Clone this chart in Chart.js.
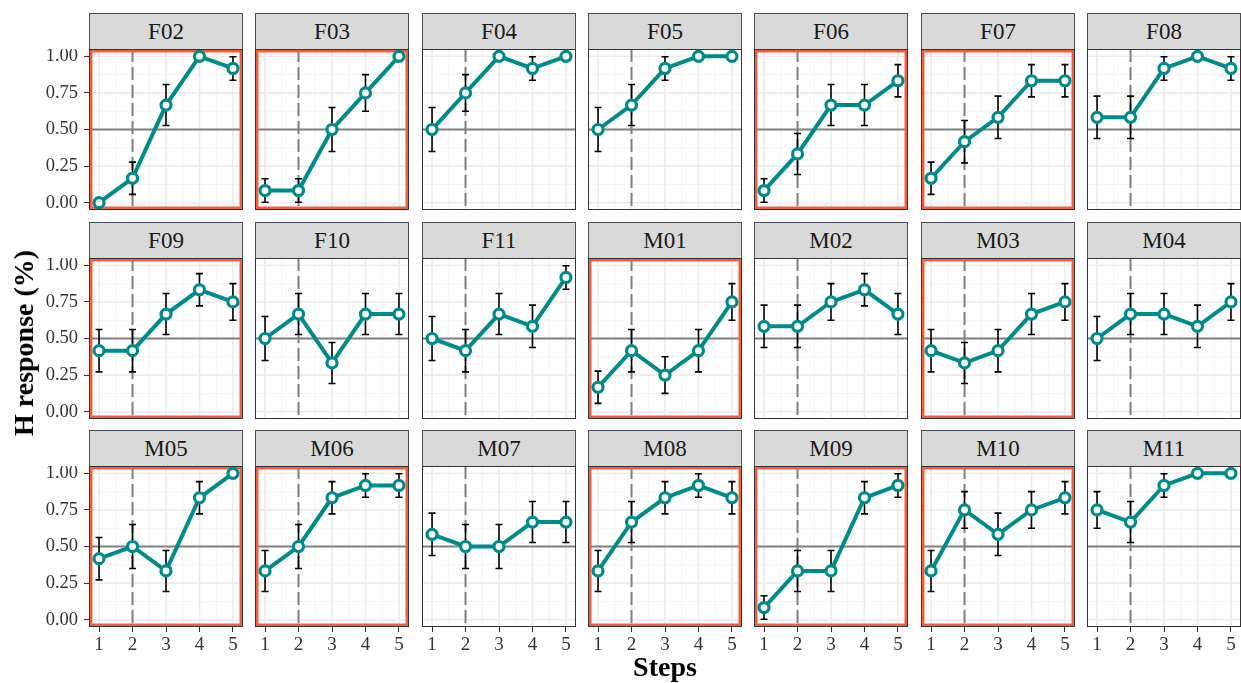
<!DOCTYPE html>
<html><head><meta charset="utf-8">
<script src="https://cdn.jsdelivr.net/npm/chart.js@4"></script>
<style>
body{margin:0;width:1241px;height:683px;background:#fff;position:relative;overflow:hidden;font-family:"Liberation Serif",serif}
.strip{position:absolute;background:#D9D9D9;border:1px solid #4d4d4d;box-sizing:border-box;text-align:center;font-size:23px;color:#1a1a1a}
canvas{position:absolute}
.title{position:absolute;font-weight:bold;font-size:28px;white-space:nowrap;color:#000}
</style></head><body>
<script>
const speakers = ['F02','F03','F04','F05','F06','F07','F08',
                  'F09','F10','F11','M01','M02','M03','M04',
                  'M05','M06','M07','M08','M09','M10','M11'];
const steps = [1,2,3,4,5];
const responseValues = [
  [0, 0.167, 0.667, 1, 0.917],
  [0.083, 0.083, 0.5, 0.75, 1],
  [0.5, 0.75, 1, 0.917, 1],
  [0.5, 0.667, 0.917, 1, 1],
  [0.083, 0.333, 0.667, 0.667, 0.833],
  [0.167, 0.417, 0.583, 0.833, 0.833],
  [0.583, 0.583, 0.917, 1, 0.917],
  [0.417, 0.417, 0.667, 0.833, 0.75],
  [0.5, 0.667, 0.333, 0.667, 0.667],
  [0.5, 0.417, 0.667, 0.583, 0.917],
  [0.167, 0.417, 0.25, 0.417, 0.75],
  [0.583, 0.583, 0.75, 0.833, 0.667],
  [0.417, 0.333, 0.417, 0.667, 0.75],
  [0.5, 0.667, 0.667, 0.583, 0.75],
  [0.417, 0.5, 0.333, 0.833, 1],
  [0.333, 0.5, 0.833, 0.917, 0.917],
  [0.583, 0.5, 0.5, 0.667, 0.667],
  [0.333, 0.667, 0.833, 0.917, 0.833],
  [0.083, 0.333, 0.333, 0.833, 0.917],
  [0.333, 0.75, 0.583, 0.75, 0.833],
  [0.75, 0.667, 0.917, 1, 1]
];
const errorValues = [
  [0, 0.11, 0.14, 0, 0.08],
  [0.08, 0.08, 0.15, 0.125, 0],
  [0.15, 0.125, 0, 0.08, 0],
  [0.15, 0.14, 0.08, 0, 0],
  [0.08, 0.14, 0.14, 0.14, 0.11],
  [0.11, 0.145, 0.145, 0.11, 0.11],
  [0.145, 0.145, 0.08, 0, 0.08],
  [0.145, 0.145, 0.14, 0.11, 0.125],
  [0.15, 0.14, 0.14, 0.14, 0.14],
  [0.15, 0.145, 0.14, 0.145, 0.08],
  [0.11, 0.145, 0.125, 0.145, 0.125],
  [0.145, 0.145, 0.125, 0.11, 0.14],
  [0.145, 0.14, 0.145, 0.14, 0.125],
  [0.15, 0.14, 0.14, 0.145, 0.125],
  [0.145, 0.15, 0.14, 0.11, 0],
  [0.14, 0.15, 0.11, 0.08, 0.08],
  [0.145, 0.15, 0.15, 0.14, 0.14],
  [0.14, 0.14, 0.11, 0.08, 0.11],
  [0.08, 0.14, 0.14, 0.11, 0.08],
  [0.14, 0.125, 0.145, 0.125, 0.11],
  [0.125, 0.14, 0.08, 0, 0]
];
const highlightedSpeakers = ['F02','F03','F06','F07','F09','M01','M03','M05','M06','M08','M09','M10'];
const yTickValues = [0, 0.25, 0.5, 0.75, 1];
const yTickLabels = ['0.00','0.25','0.50','0.75','1.00'];
const xTickLabels = ['1','2','3','4','5'];
const referenceStep = 2;
const referenceResponse = 0.5;
const xAxisTitle = 'Steps';
const yAxisTitle = 'H response (%)';

const NCOL = 7, NROW = 3;
const PANEL_W = 154, PANEL_H = 161, STRIP_H = 36;
const colLeft = c => Math.round(89 + c * 166.33);
const stripTop = r => Math.round(13 + r * 208.5);
const TEAL = '#008B8B';
const RED = '#F25F3D';

const panelPlugin = {
  id: 'panel',
  beforeDatasetsDraw(chart, args, opts) {
    const {ctx, chartArea: a, scales: {x, y}} = chart;
    ctx.save();
    ctx.fillStyle = '#fff';
    ctx.fillRect(a.left, a.top, a.width, a.height);
    ctx.beginPath(); ctx.rect(a.left, a.top, a.width, a.height); ctx.clip();
    ctx.strokeStyle = '#F3F3F3'; ctx.lineWidth = 0.9;
    for (let i = 0; i < steps.length - 1; i++) {
      const px = x.getPixelForValue((steps[i] + steps[i+1]) / 2);
      ctx.beginPath(); ctx.moveTo(px, a.top); ctx.lineTo(px, a.bottom); ctx.stroke();
    }
    for (let i = 0; i < yTickValues.length - 1; i++) {
      const py = y.getPixelForValue((yTickValues[i] + yTickValues[i+1]) / 2);
      ctx.beginPath(); ctx.moveTo(a.left, py); ctx.lineTo(a.right, py); ctx.stroke();
    }
    ctx.strokeStyle = '#EBEBEB'; ctx.lineWidth = 1.6;
    steps.forEach(s => {
      const px = x.getPixelForValue(s);
      ctx.beginPath(); ctx.moveTo(px, a.top); ctx.lineTo(px, a.bottom); ctx.stroke();
    });
    yTickValues.forEach(v => {
      const py = y.getPixelForValue(v);
      ctx.beginPath(); ctx.moveTo(a.left, py); ctx.lineTo(a.right, py); ctx.stroke();
    });
    ctx.strokeStyle = '#808080'; ctx.lineWidth = 2;
    const hy = y.getPixelForValue(referenceResponse);
    ctx.beginPath(); ctx.moveTo(a.left, hy); ctx.lineTo(a.right, hy); ctx.stroke();
    const vx = x.getPixelForValue(referenceStep);
    ctx.setLineDash([13, 5]);
    ctx.beginPath(); ctx.moveTo(vx, a.top); ctx.lineTo(vx, a.bottom); ctx.stroke();
    ctx.setLineDash([]);
    if (opts.highlight) {
      ctx.strokeStyle = RED; ctx.lineWidth = 3;
      ctx.strokeRect(a.left + 2, a.top + 2, a.width - 4, a.height - 4);
    }
    ctx.restore();
    ctx.save();
    ctx.strokeStyle = '#333'; ctx.lineWidth = 1;
    ctx.strokeRect(a.left + 0.5, a.top + 0.5, a.width - 1, a.height - 1);
    ctx.strokeStyle = '#000'; ctx.lineWidth = 1.6;
    opts.values.forEach((v, i) => {
      const e = opts.errors[i];
      if (!e) return;
      const px = x.getPixelForValue(steps[i]);
      const p1 = y.getPixelForValue(v - e), p2 = y.getPixelForValue(v + e);
      ctx.beginPath();
      ctx.moveTo(px, p1); ctx.lineTo(px, p2);
      ctx.moveTo(px - 3.5, p1); ctx.lineTo(px + 3.5, p1);
      ctx.moveTo(px - 3.5, p2); ctx.lineTo(px + 3.5, p2);
      ctx.stroke();
    });
    ctx.restore();
  }
};

speakers.forEach((name, k) => {
  const r = Math.floor(k / NCOL), c = k % NCOL;
  const left = colLeft(c), sTop = stripTop(r), pTop = sTop + STRIP_H;
  const strip = document.createElement('div');
  strip.className = 'strip';
  strip.style.left = left + 'px'; strip.style.top = sTop + 'px';
  strip.style.width = PANEL_W + 'px'; strip.style.height = (STRIP_H + 1) + 'px';
  strip.style.lineHeight = (STRIP_H - 1) + 'px';
  strip.textContent = name;
  document.body.appendChild(strip);

  const isLeft = c === 0, isBottom = r === NROW - 1;
  const padL = isLeft ? left : 0;
  const padB = isBottom ? 45 : 0;
  const cv = document.createElement('canvas');
  cv.width = PANEL_W + padL; cv.height = PANEL_H + padB;
  cv.style.left = (left - padL) + 'px'; cv.style.top = pTop + 'px';
  cv.style.width = cv.width + 'px'; cv.style.height = cv.height + 'px';
  document.body.appendChild(cv);

  const vals = responseValues[k];
  new Chart(cv, {
    type: 'line',
    data: {datasets: [{
      data: steps.map((s, i) => ({x: s, y: vals[i]})),
      borderColor: TEAL, borderWidth: 4, tension: 0,
      pointRadius: 5, pointBorderWidth: 3.2, pointBackgroundColor: '#fff',
      pointBorderColor: TEAL, clip: false
    }]},
    options: {
      responsive: false, animation: false, events: [], devicePixelRatio: 1,
      layout: {padding: 0, autoPadding: false},
      plugins: {legend: {display: false}, tooltip: {enabled: false},
        panel: {values: vals, errors: errorValues[k], highlight: highlightedSpeakers.includes(name)}},
      scales: {
        x: {type: 'linear', min: 0.7, max: 5.3, display: isBottom,
          afterBuildTicks: s => { s.ticks = steps.map(v => ({value: v})); },
          afterFit: s => { s.height = padB; s.paddingLeft = 0; s.paddingRight = 0; s.paddingTop = 0; s.paddingBottom = 0; },
          grid: {drawOnChartArea: false, drawTicks: true, tickLength: 5, tickColor: '#333', tickWidth: 1.1},
          border: {display: false},
          ticks: {autoSkip: false, maxRotation: 0, padding: 2, color: '#333', font: {family: 'Liberation Serif', size: 19},
            callback: v => xTickLabels[steps.indexOf(v)]}
        },
        y: {type: 'linear', min: -0.05, max: 1.05, display: isLeft,
          afterBuildTicks: s => { s.ticks = yTickValues.map(v => ({value: v})); },
          afterFit: s => { s.width = padL; s.paddingTop = 0; s.paddingBottom = 0; s.paddingLeft = 0; s.paddingRight = 0; },
          grid: {drawOnChartArea: false, drawTicks: true, tickLength: 5, tickColor: '#333', tickWidth: 1.1},
          border: {display: false},
          ticks: {autoSkip: false, padding: 6, color: '#333', font: {family: 'Liberation Serif', size: 18.5},
            callback: v => yTickLabels[yTickValues.indexOf(v)]}
        }
      }
    },
    plugins: [panelPlugin]
  });
});

const xt = document.createElement('div');
xt.className = 'title'; xt.textContent = xAxisTitle;
xt.style.left = '665px'; xt.style.top = '651px'; xt.style.lineHeight = '32px';
xt.style.transform = 'translateX(-50%)';
document.body.appendChild(xt);
const yt = document.createElement('div');
yt.className = 'title'; yt.textContent = yAxisTitle;
yt.style.left = '24px'; yt.style.top = '343px'; yt.style.lineHeight = '32px';
yt.style.transform = 'translate(-50%,-50%) rotate(-90deg)';
document.body.appendChild(yt);
</script>
</body></html>
